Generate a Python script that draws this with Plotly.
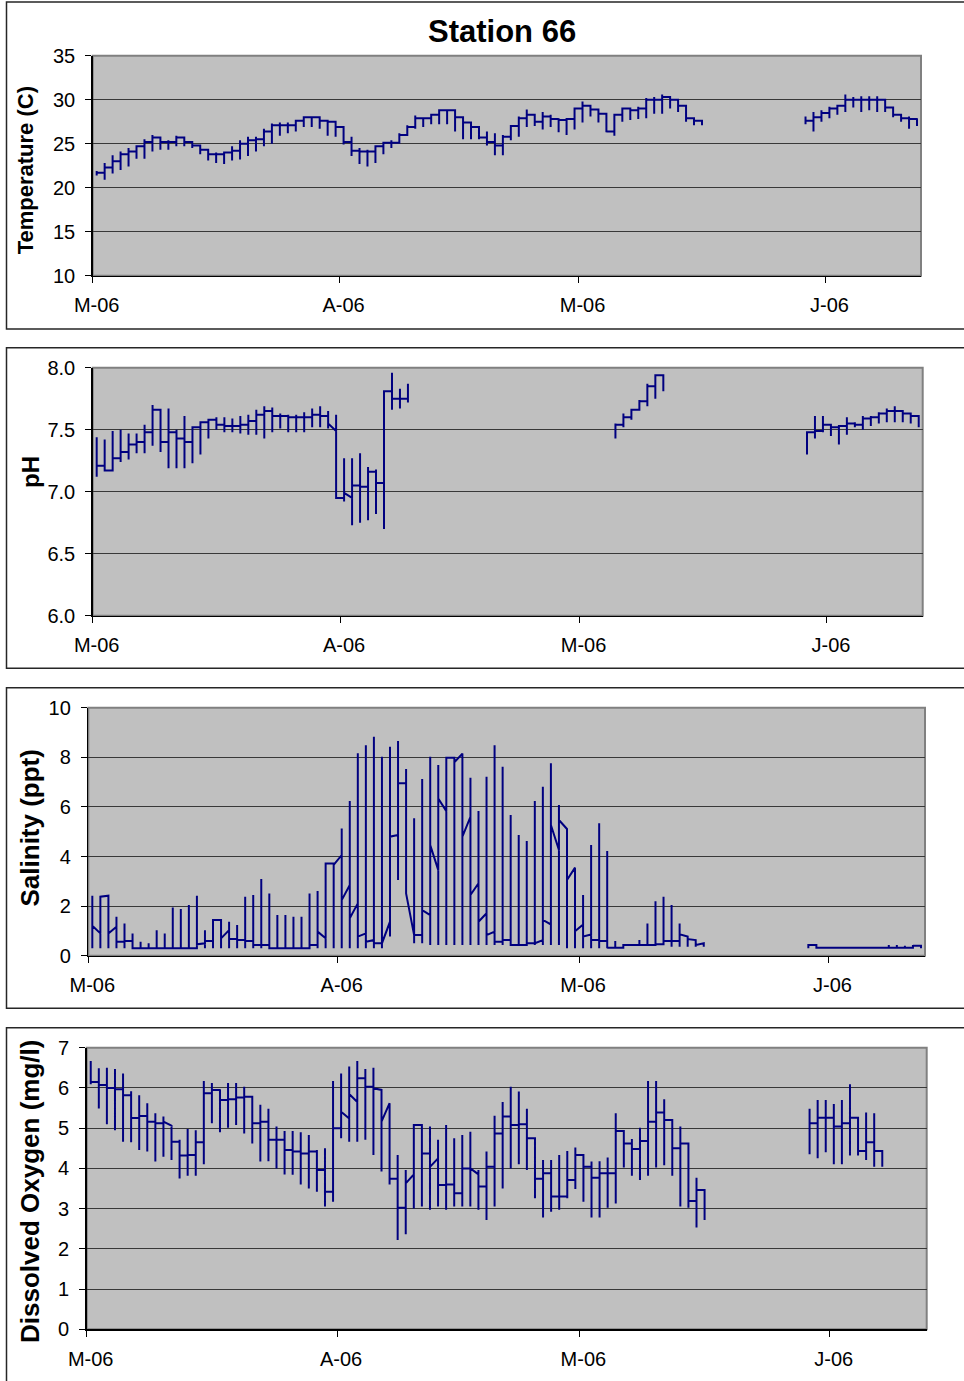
import pandas as pd
import plotly.graph_objects as go

# ---------------- data ----------------
dates = pd.date_range("2006-03-01", "2006-06-12", freq="D")   # 104 daily slots
month_ticks = ["2006-03-01", "2006-04-01", "2006-05-01", "2006-06-01"]
month_labels = ["M-06", "A-06", "M-06", "J-06"]


def gap(n):
    return [None] * n


# Temperature (C): daily low / high / closing value
temp_lo = [21.4, 20.9, 21.6, 22.0, 22.4, 23.3, 23.3, 24.1, 24.3, 24.3,
           24.7, 24.7, 24.5, 23.8, 23.1, 22.8, 22.7, 23.1, 23.2, 23.6,
           24.1, 24.7, 25.0, 25.9, 26.2, 26.4, 26.9, 26.9, 26.7, 25.9,
           25.8, 24.9, 23.6, 22.7, 22.4, 22.8, 23.8, 24.5, 25.0, 26.4,
           26.7, 26.9, 27.2, 27.2, 27.2, 26.4, 25.5, 25.5, 25.5, 24.8,
           23.7, 23.7, 25.4, 25.8, 26.9, 27.0, 26.6, 26.9, 26.3, 26.0,
           26.6, 27.4, 28.1, 27.4, 26.3, 25.9, 27.5, 27.7, 27.8, 27.9,
           28.4, 28.4, 29.0, 28.6, 27.5, 27.1, 27.1] + gap(12) + \
          [27.2, 26.4, 27.5, 27.9, 28.3, 28.6, 29.1, 28.6, 28.8, 28.6,
           28.6, 28.0, 27.5, 26.7, 27.0]
temp_hi = [21.9, 22.8, 23.7, 24.1, 24.5, 24.8, 25.5, 26.0, 25.6, 25.4,
           25.9, 25.6, 25.2, 24.5, 24.2, 24.0, 24.1, 24.7, 25.4, 25.8,
           25.8, 26.7, 27.3, 27.4, 27.4, 27.7, 28.1, 28.0, 27.9, 27.5,
           26.9, 25.8, 25.8, 24.5, 24.3, 24.7, 25.2, 25.4, 26.2, 27.1,
           28.2, 28.0, 28.4, 28.9, 28.9, 28.3, 27.7, 27.2, 26.4, 26.4,
           26.2, 26.0, 27.1, 28.1, 28.9, 28.4, 28.6, 28.3, 27.9, 27.9,
           29.1, 29.8, 29.2, 28.8, 28.4, 28.4, 29.1, 29.0, 29.2, 30.2,
           30.3, 30.6, 30.3, 29.9, 29.3, 27.9, 27.6] + gap(12) + \
          [28.1, 28.6, 28.8, 29.2, 29.4, 30.6, 30.3, 30.4, 30.4, 30.4,
           30.0, 29.1, 28.4, 28.1, 27.9]
temp_cl = [21.7, 22.3, 23.0, 23.8, 24.1, 24.7, 25.2, 25.7, 25.2, 25.2,
           25.7, 25.2, 24.8, 24.3, 23.8, 23.8, 24.0, 24.2, 25.0, 25.4,
           25.5, 26.4, 27.1, 27.1, 27.1, 27.6, 28.0, 28.0, 27.6, 27.5,
           26.9, 25.2, 24.2, 24.1, 24.1, 24.7, 25.1, 25.1, 26.0, 26.9,
           27.9, 27.9, 28.3, 28.8, 28.8, 28.0, 27.4, 26.9, 25.7, 25.2,
           24.8, 25.8, 27.0, 27.9, 28.3, 27.5, 28.1, 27.8, 27.7, 27.8,
           29.0, 29.3, 28.9, 28.4, 26.4, 28.3, 29.0, 28.8, 29.0, 30.0,
           30.0, 30.3, 30.0, 29.3, 27.9, 27.6, 27.4] + gap(12) + \
          [27.6, 28.0, 28.5, 29.0, 29.3, 30.0, 30.0, 30.0, 30.0, 30.0,
           29.1, 28.3, 27.9, 27.8, 27.3]
temp_open = {}

# pH
ph_lo = [7.12, 7.17, 7.17, 7.24, 7.26, 7.31, 7.31, 7.37, 7.32, 7.19,
         7.19, 7.19, 7.23, 7.30, 7.43, 7.50, 7.48, 7.48, 7.47, 7.46,
         7.46, 7.43, 7.48, 7.51, 7.48, 7.48, 7.48, 7.52, 7.52, 7.51,
         6.95, 6.92, 6.73, 6.75, 6.77, 6.82, 6.70, 7.66, 7.67, 7.72] + gap(25) + \
        [7.43, 7.52, 7.58, 7.66, 7.69, 7.75, 7.81] + gap(17) + \
        [7.30, 7.43, 7.48, 7.45, 7.38, 7.46, 7.52, 7.50, 7.53, 7.55,
         7.56, 7.56, 7.56, 7.55, 7.52]
ph_hi = [7.44, 7.42, 7.49, 7.50, 7.47, 7.47, 7.54, 7.70, 7.66, 7.67,
         7.50, 7.61, 7.52, 7.56, 7.58, 7.60, 7.60, 7.59, 7.61, 7.62,
         7.66, 7.69, 7.68, 7.63, 7.62, 7.62, 7.64, 7.67, 7.69, 7.65,
         7.62, 7.27, 7.27, 7.31, 7.20, 7.18, 7.81, 7.96, 7.83, 7.87] + gap(25) + \
        [7.55, 7.63, 7.66, 7.74, 7.87, 7.94, 7.94] + gap(17) + \
        [7.48, 7.61, 7.61, 7.54, 7.53, 7.60, 7.56, 7.61, 7.61, 7.64,
         7.67, 7.69, 7.65, 7.63, 7.61]
ph_cl = [7.21, 7.17, 7.27, 7.32, 7.38, 7.40, 7.48, 7.66, 7.40, 7.48,
         7.43, 7.40, 7.52, 7.56, 7.58, 7.54, 7.53, 7.53, 7.54, 7.57,
         7.62, 7.65, 7.61, 7.61, 7.60, 7.60, 7.60, 7.62, 7.61, 7.55,
         6.95, 6.99, 7.05, 7.04, 7.16, 7.07, 7.81, 7.75, 7.75, 7.75] + gap(25) + \
        [7.54, 7.60, 7.66, 7.73, 7.85, 7.94, 7.81] + gap(17) + \
        [7.48, 7.49, 7.54, 7.52, 7.53, 7.55, 7.54, 7.59, 7.60, 7.63,
         7.65, 7.65, 7.63, 7.61, 7.58]
ph_open = {0: 7.35, 30: 7.49, 32: 6.95}

# Salinity (ppt)
sal_lo = [0.30] * 30 + \
         [0.30, 0.30, 0.30, 0.30, 0.30, 0.30, 0.30, 0.77, 3.05, 2.51,
          0.50, 0.50, 0.43, 0.43, 0.43, 0.43, 0.43, 0.43, 0.43, 0.43,
          0.43, 0.43, 0.43, 0.43, 0.43, 0.43, 0.43, 0.43, 0.43, 0.30,
          0.30, 0.30, 0.30, 0.30, 0.30, 0.32, 0.32, 0.43, 0.43, 0.43,
          0.43, 0.43, 0.36, 0.36, 0.36, 0.36, 0.36] + gap(12) + \
         [0.30, 0.32, 0.32, 0.32, 0.32, 0.32, 0.32, 0.32, 0.32, 0.32,
          0.32, 0.32, 0.32, 0.32, 0.30]
sal_hi = [2.42, 2.38, 2.42, 1.57, 1.30, 0.90, 0.56, 0.50, 1.03, 0.90,
          1.94, 1.88, 2.04, 2.42, 1.03, 1.44, 1.44, 1.37, 1.24, 2.38,
          2.45, 3.09, 2.51, 1.64, 1.64, 1.57, 1.57, 2.51, 2.61, 3.72,
          3.72, 5.13, 6.24, 8.16, 8.49, 8.83, 8.02, 8.43, 8.66, 7.53,
          5.54, 7.12, 8.02, 7.69, 7.98, 7.80, 8.15, 7.18, 5.83, 7.22,
          8.49, 7.62, 5.67, 4.87, 4.62, 6.24, 6.81, 7.76, 6.08, 5.11,
          3.55, 2.45, 4.46, 5.34, 4.22, 0.59, 0.43, 0.43, 0.63, 1.30,
          2.20, 2.38, 2.04, 1.30, 0.77, 0.63, 0.50] + gap(12) + \
         [0.43, 0.32, 0.32, 0.32, 0.32, 0.32, 0.32, 0.32, 0.32, 0.32,
          0.43, 0.43, 0.40, 0.43, 0.32]
sal_cl = [1.21, 2.38, 0.90, 0.56, 0.59, 0.30, 0.30, 0.30, 0.30, 0.30,
          0.30, 0.30, 0.30, 0.46, 0.59, 1.44, 0.70, 0.67, 0.63, 0.59,
          0.43, 0.43, 0.30, 0.30, 0.30, 0.30, 0.30, 0.43, 0.97, 3.72,
          3.66, 2.24, 1.51, 0.77, 0.56, 0.50, 0.50, 4.80, 6.95, 2.51,
          0.83, 1.84, 4.46, 6.34, 7.98, 7.80, 4.80, 2.45, 1.37, 0.83,
          0.56, 0.63, 0.43, 0.43, 0.50, 0.50, 1.44, 5.27, 5.47, 3.05,
          0.99, 0.77, 0.63, 0.59, 0.32, 0.32, 0.43, 0.43, 0.43, 0.43,
          0.46, 0.59, 0.59, 0.86, 0.67, 0.43, 0.45] + gap(12) + \
         [0.43, 0.32, 0.32, 0.32, 0.32, 0.32, 0.32, 0.32, 0.32, 0.32,
          0.32, 0.32, 0.32, 0.40, 0.30]
sal_open = {0: 1.21, 1: 0.90, 2: 2.42, 3: 1.17, 14: 0.50, 17: 1.03, 28: 0.43,
            29: 0.70, 31: 4.06, 32: 2.85, 33: 2.11, 34: 0.90, 35: 0.63, 37: 1.37,
            38: 4.87, 40: 0.83, 42: 1.64, 43: 3.45, 44: 5.83, 46: 8.15, 47: 5.60,
            48: 2.92, 49: 1.71, 50: 0.97, 56: 0.63, 57: 1.26, 58: 4.26, 59: 5.11,
            60: 3.55, 61: 1.26, 62: 0.86, 74: 0.77, 75: 0.63, 76: 0.50}

# Dissolved oxygen (mg/l)
do_lo = [6.09, 5.49, 5.10, 4.95, 4.66, 4.65, 4.46, 4.42, 4.17, 4.29,
         4.21, 3.75, 3.82, 3.82, 4.10, 5.12, 4.90, 5.01, 5.08, 4.87,
         4.62, 4.17, 4.18, 4.00, 3.85, 3.84, 3.60, 3.50, 3.42, 3.05,
         3.17, 4.75, 4.66, 4.66, 4.71, 4.33, 3.92, 3.60, 2.22, 2.36,
         3.00, 3.05, 2.97, 3.05, 2.97, 3.05, 3.05, 3.05, 2.97, 2.72,
         3.05, 3.50, 4.00, 4.10, 3.96, 3.26, 2.78, 2.92, 2.97, 3.26,
         3.49, 3.17, 2.78, 2.78, 3.02, 3.13, 4.02, 3.82, 3.71, 3.82,
         4.02, 4.08, 3.82, 3.05, 3.02, 2.53, 2.72] + gap(12) + \
        [4.35, 4.25, 4.40, 4.10, 4.10, 4.32, 4.32, 4.21, 4.04, 4.04] + gap(5)
do_hi = [6.67, 6.49, 6.50, 6.47, 6.36, 5.92, 5.82, 5.62, 5.37, 5.29,
         5.08, 4.71, 4.98, 4.95, 6.17, 6.12, 5.97, 6.12, 6.12, 6.03,
         5.78, 5.58, 5.48, 5.04, 4.93, 4.93, 4.90, 4.83, 4.46, 4.50,
         6.17, 6.36, 6.53, 6.67, 6.47, 6.50, 5.95, 5.62, 4.33, 3.96,
         5.08, 5.08, 5.04, 4.71, 5.08, 4.75, 4.83, 4.91, 3.96, 4.42,
         5.31, 5.65, 6.03, 5.91, 5.48, 4.75, 4.21, 4.21, 4.33, 4.43,
         4.52, 4.33, 4.17, 4.18, 4.27, 5.37, 4.91, 4.73, 5.01, 6.17,
         6.17, 5.72, 5.20, 5.04, 4.62, 3.77, 3.44] + gap(12) + \
        [5.48, 5.70, 5.70, 5.60, 5.70, 6.09, 5.26, 5.39, 5.37, 4.46] + gap(5)
do_cl = [6.15, 6.07, 6.00, 5.97, 5.82, 5.25, 5.30, 5.16, 5.12, 5.16,
         4.66, 4.32, 4.33, 4.65, 5.87, 5.95, 5.70, 5.72, 5.76, 5.78,
         5.12, 5.16, 4.71, 4.71, 4.46, 4.42, 4.37, 4.42, 3.96, 3.42,
         5.00, 5.41, 5.85, 6.24, 6.03, 5.99, 5.16, 3.74, 3.02, 3.63,
         5.08, 4.37, 4.04, 3.59, 3.60, 3.38, 4.00, 4.00, 3.55, 4.04,
         4.87, 5.29, 5.08, 5.10, 4.75, 3.74, 3.88, 3.30, 3.30, 3.71,
         4.33, 4.04, 3.77, 3.88, 3.88, 4.93, 4.62, 4.48, 4.68, 5.16,
         5.39, 5.20, 4.50, 4.62, 3.19, 3.46, 3.44] + gap(12) + \
        [5.12, 5.26, 5.26, 5.04, 5.12, 5.26, 4.43, 4.65, 4.43, 4.46] + gap(5)
do_open = {0: 6.67, 10: 5.06, 32: 5.24, 33: 5.65, 36: 5.95, 37: 5.62,
           40: 3.85, 43: 4.25, 48: 3.85}


def daily_path(lo, hi, cl, op_over):
    """Excel-style line: every reading of one day sits on the same x."""
    xs, ys = [], []
    prev = None
    for i, day in enumerate(dates):
        if lo[i] is None:
            if prev is not None:
                xs.append(None)
                ys.append(None)
            prev = None
            continue
        xc = day + pd.Timedelta(hours=12)
        start = op_over.get(i, prev if prev is not None else cl[i])
        for v in (start, hi[i], lo[i], cl[i]):
            xs.append(xc)
            ys.append(v)
        prev = cl[i]
    return xs, ys


# ---------------- layout ----------------
W, H = 964, 1381
FONT = "Liberation Sans, Arial, sans-serif"
NAVY = "#000080"

panels = [
    dict(data=(temp_lo, temp_hi, temp_cl, temp_open), title="Temperature (C)",
         plot=(92.7, 921.0, 55.7, 275.7), box=(2.0, 329.0),
         yr=[10, 35], dt=5, fmt="", ttl=(25.3, 170), tsz=22),
    dict(data=(ph_lo, ph_hi, ph_cl, ph_open), title="pH",
         plot=(92.7, 922.7, 367.7, 615.7), box=(347.7, 668.3),
         yr=[6, 8], dt=0.5, fmt=".1f", ttl=(30, 472), tsz=24),
    dict(data=(sal_lo, sal_hi, sal_cl, sal_open), title="Salinity (ppt)",
         plot=(88.3, 925.0, 707.7, 955.7), box=(687.7, 1008.3),
         yr=[0, 10], dt=2, fmt="", ttl=(29.5, 828), tsz=26),
    dict(data=(do_lo, do_hi, do_cl, do_open), title="Dissolved Oxygen (mg/l)",
         plot=(86.7, 926.7, 1047.7, 1329.3), box=(1027.7, 1395.0),
         yr=[0, 7], dt=1, fmt="", ttl=(30, 1192), tsz=26),
]

fig = go.Figure()
shapes = []
annotations = [dict(text="<b>Station 66</b>", x=502 / W, y=1 - 31 / H,
                    xref="paper", yref="paper", showarrow=False,
                    font=dict(family=FONT, size=31, color="black"),
                    xanchor="center", yanchor="middle")]

for k, p in enumerate(panels, start=1):
    sfx = "" if k == 1 else str(k)
    lo, hi, cl, op = p["data"]
    xs, ys = daily_path(lo, hi, cl, op)
    fig.add_trace(go.Scatter(x=xs, y=ys, mode="lines",
                             line=dict(color=NAVY, width=2),
                             xaxis="x" + sfx, yaxis="y" + sfx,
                             hoverinfo="skip", showlegend=False))
    x0, x1, y0, y1 = p["plot"]
    fig.layout["xaxis" + sfx] = dict(
        domain=[x0 / W, x1 / W], anchor="y" + sfx, type="date",
        range=["2006-03-01", "2006-06-13"], automargin=False,
        tickmode="array", tickvals=month_ticks, ticktext=month_labels,
        ticks="outside", ticklen=6, tickwidth=1, tickcolor="black",
        showline=True, linecolor="black", linewidth=1.5,
        showgrid=False, zeroline=False, ticklabelstandoff=5, ticklabelshift=4,
        tickfont=dict(family=FONT, size=20, color="black"), fixedrange=True)
    fig.layout["yaxis" + sfx] = dict(
        domain=[1 - y1 / H, 1 - y0 / H], anchor="x" + sfx, automargin=False,
        range=p["yr"], dtick=p["dt"], tick0=p["yr"][0], tickformat=p["fmt"],
        ticks="outside", ticklen=6, tickwidth=1, tickcolor="black",
        showline=True, linecolor="black", linewidth=1.5,
        showgrid=True, gridcolor="#383838", gridwidth=1, zeroline=False,
        ticklabelstandoff=6,
        tickfont=dict(family=FONT, size=20, color="black"), fixedrange=True)
    # grey plot-area border (top / right)
    shapes.append(dict(type="rect", xref="x" + sfx + " domain",
                       yref="y" + sfx + " domain", x0=0, x1=1, y0=0, y1=1,
                       line=dict(color="#808080", width=2), layer="below"))
    # outer chart frame
    b0, b1 = p["box"]
    shapes.append(dict(type="rect", xref="paper", yref="paper",
                       x0=6.5 / W, x1=1.02, y0=1 - b1 / H, y1=1 - b0 / H,
                       line=dict(color="#262626", width=1.5)))
    tx, ty = p["ttl"]
    annotations.append(dict(text="<b>" + p["title"] + "</b>", x=tx / W,
                            y=1 - ty / H, xref="paper", yref="paper",
                            showarrow=False, textangle=-90,
                            font=dict(family=FONT, size=p["tsz"], color="black"),
                            xanchor="center", yanchor="middle"))

fig.update_layout(width=W, height=H, margin=dict(l=0, r=0, t=0, b=0, autoexpand=False),
                  paper_bgcolor="white", plot_bgcolor="#c0c0c0",
                  shapes=shapes, annotations=annotations, showlegend=False)

fig.write_html("out.html", config={"displayModeBar": False, "staticPlot": True},
               post_script="document.body.style.margin='0px';"
                           "document.body.style.overflow='hidden';")
